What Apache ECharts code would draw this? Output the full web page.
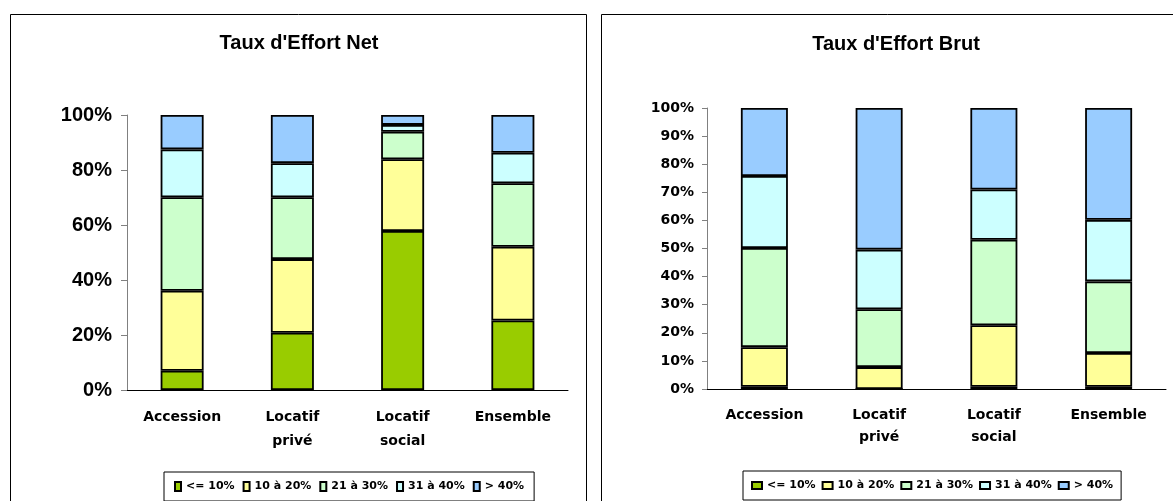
<!DOCTYPE html>
<html>
<head>
<meta charset="utf-8">
<script src="https://cdn.jsdelivr.net/npm/echarts@6/dist/echarts.min.js"></script>
<style>
  html, body { margin: 0; padding: 0; background: #fff; }
  #chart { width: 1173px; height: 501px; }
</style>
</head>
<body>
<div id="chart"></div>
<script>
// categories and bands
const categories = ['Accession', 'Locatif\nprivé', 'Locatif\nsocial', 'Ensemble'];
const bands = ['<= 10%', '10 à 20%', '21 à 30%', '31 à 40%', '> 40%'];
const bandColors = ['#99CC00', '#FFFF99', '#CCFFCC', '#CCFFFF', '#99CCFF'];

// Taux d'Effort Net (%)
const netLow = [7, 20.8, 57.8, 25.3];
const net10to20 = [29.1, 26.8, 26.1, 26.8];
const net21to30 = [34, 22.5, 10, 23.1];
const net31to40 = [17.4, 12.4, 2.5, 11.1];
const netHigh = [12.5, 17.5, 3.6, 13.7];

// Taux d'Effort Brut (%)
const brutLow = [0.8, 0, 0.8, 0.8];
const brut10to20 = [14.1, 7.8, 21.9, 12.0];
const brut21to30 = [35.3, 20.6, 30.4, 25.5];
const brut31to40 = [25.6, 21.2, 17.9, 21.9];
const brutHigh = [24.2, 50.4, 29.0, 39.8];

const netSeries = [netLow, net10to20, net21to30, net31to40, netHigh];
const brutSeries = [brutLow, brut10to20, brut21to30, brut31to40, brutHigh];

const chart = echarts.init(document.getElementById('chart'));

const catFont = { fontFamily: 'DejaVu Sans', fontWeight: 'bold', fontSize: 14, color: '#000' };
const tickFont = { fontFamily: 'DejaVu Sans', fontWeight: 'bold', fontSize: 14, color: '#000' };
const legendFont = { fontFamily: 'DejaVu Sans', fontWeight: 'bold', fontSize: 11, color: '#000' };
const titleFont = { fontFamily: 'Liberation Sans', fontWeight: 'bold', fontSize: 20, color: '#000' };

function makeSeries(list, stack, axisIndex, width) {
  return list.map((values, i) => ({
    name: bands[i],
    type: 'bar',
    stack: stack,
    xAxisIndex: axisIndex,
    yAxisIndex: axisIndex,
    barWidth: width,
    data: values,
    itemStyle: { color: bandColors[i], borderColor: '#000', borderWidth: 1.8 },
    emphasis: { disabled: true }
  }));
}

const option = {
  animation: false,
  backgroundColor: '#fff',
  // frames
  graphic: [
    { type: 'rect', shape: { x: 10.5, y: 14.5, width: 576, height: 520 },
      style: { fill: 'none', stroke: '#000', lineWidth: 1 } },
    { type: 'rect', shape: { x: 601.5, y: 14.5, width: 620, height: 520 },
      style: { fill: 'none', stroke: '#000', lineWidth: 1 } }
  ],
  title: [
    { text: "Taux d'Effort Net", left: 299, top: 33, textAlign: 'center', padding: 0, textStyle: titleFont },
    { text: "Taux d'Effort Brut", left: 896, top: 34, textAlign: 'center', padding: 0, textStyle: titleFont }
  ],
  legend: [
    {
      data: bands, left: 164, top: 472, orient: 'horizontal',
      icon: 'rect', itemWidth: 6, itemHeight: 9, itemGap: 8,
      padding: [9, 10], borderColor: '#000', borderWidth: 1, backgroundColor: '#fff',
      textStyle: legendFont, selectedMode: false
    },
    {
      data: bands, left: 743, top: 471, orient: 'horizontal',
      icon: 'rect', itemWidth: 10, itemHeight: 7, itemGap: 6,
      padding: [9, 8], borderColor: '#000', borderWidth: 1, backgroundColor: '#fff',
      textStyle: legendFont, selectedMode: false
    }
  ],
  grid: [
    { left: 127, right: 605, top: 115, bottom: 111 },
    { left: 707, right: 7, top: 108, bottom: 112 }
  ],
  xAxis: [
    {
      type: 'category', gridIndex: 0, data: categories,
      axisLine: { lineStyle: { color: '#000', width: 1 } },
      axisTick: { length: 5, lineStyle: { color: '#000' } },
      axisLabel: Object.assign({ margin: 15, lineHeight: 24 }, catFont)
    },
    {
      type: 'category', gridIndex: 1, data: categories,
      axisLine: { lineStyle: { color: '#000', width: 1 } },
      axisTick: { length: 5, lineStyle: { color: '#000' } },
      axisLabel: Object.assign({ margin: 15, lineHeight: 22 }, catFont)
    }
  ],
  yAxis: [
    {
      type: 'value', gridIndex: 0, min: 0, max: 100, interval: 20,
      axisLine: { show: true, lineStyle: { color: '#808080' } },
      axisTick: { show: true, length: 6, lineStyle: { color: '#808080' } },
      splitLine: { show: false },
      axisLabel: {
        formatter: '{value}%', margin: 15, color: '#000',
        fontFamily: 'Liberation Sans', fontWeight: 'bold', fontSize: 20
      }
    },
    {
      type: 'value', gridIndex: 1, min: 0, max: 100, interval: 10,
      axisLine: { show: true, lineStyle: { color: '#808080' } },
      axisTick: { show: true, length: 5, lineStyle: { color: '#808080' } },
      splitLine: { show: false },
      axisLabel: Object.assign({ formatter: '{value}%', margin: 13 }, tickFont)
    }
  ],
  series: makeSeries(netSeries, 'net', 0, 43).concat(makeSeries(brutSeries, 'brut', 1, 47))
};

chart.setOption(option);
</script>
</body>
</html>
